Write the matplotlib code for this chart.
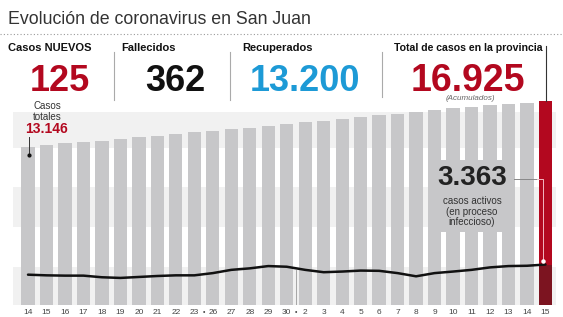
import matplotlib
matplotlib.use("Agg")
import matplotlib.pyplot as plt
from matplotlib.lines import Line2D
from matplotlib.patches import Rectangle

# ---------------- data ----------------
dates = ["14", "15", "16", "17", "18", "19", "20", "21", "22", "23", "26", "27", "28",
         "29", "30", "2", "3", "4", "5", "6", "7", "8", "9", "10", "11", "12", "13", "14", "15"]
total_cases = [13146, 13300, 13460, 13545, 13630, 13790, 13960, 14045, 14210, 14380,
               14460, 14650, 14720, 14880, 15040, 15210, 15290, 15450, 15620, 15790,
               15870, 16040, 16200, 16370, 16450, 16620, 16700, 16800, 16925]
active_cases = [2520, 2465, 2440, 2440, 2305, 2250, 2330, 2410, 2465, 2465, 2650, 2920,
                3045, 3235, 3180, 2920, 2725, 2780, 2860, 2840, 2650, 2385, 2650, 2780,
                2920, 3125, 3235, 3260, 3363]
header_labels = ["Casos NUEVOS", "Fallecidos", "Recuperados", "Total de casos en la provincia"]
header_values = ["125", "362", "13.200", "16.925"]

W, H = 563, 317
BAR = "#c7c7c9"
RED = "#b3081f"
DARKRED = "#7c1420"
BLUE = "#1d9ad6"
BAND = "#f1f1f1"

fig = plt.figure(figsize=(W / 100, H / 100), dpi=100)
fig.patch.set_facecolor("white")


def fx(x):
    return x / W


def fy(y):
    return 1 - y / H


SANS = ["Liberation Sans", "DejaVu Sans"]

# ---------------- header ----------------
fig.text(fx(8), fy(19), "Evolución de coronavirus en San Juan", family=SANS,
         fontsize=12.8, color="#333333", va="center", ha="left")
fig.add_artist(Line2D([0, 1], [fy(34), fy(34)], transform=fig.transFigure,
                      color="#9a9a9a", lw=0.8, linestyle=(0, (1, 2))))

label_x = [8, 121, 242, 394]
label_size = [8, 8, 8, 7.6]
value_cx = [60, 175, 305, 468]
value_size = [26, 26, 26, 27]
value_colors = [RED, "#111111", BLUE, RED]
for lab, lx, ls, val, vx, vs, col in zip(header_labels, label_x, label_size, header_values,
                                          value_cx, value_size, value_colors):
    fig.text(fx(lx), fy(48), lab, family=SANS, fontweight="bold", fontsize=ls,
             color="#111111", va="center", ha="left")
    fig.text(fx(vx), fy(91), val, family=SANS, fontweight="bold", fontsize=vs,
             color=col, va="baseline", ha="center")
fig.text(fx(470), fy(98.5), "(Acumulados)", family=SANS, style="italic", fontsize=5.8,
         color="#666666", va="center", ha="center")

for sx, y0, y1 in [(114, 52, 100), (230, 52, 100), (382, 52, 97)]:
    fig.add_artist(Line2D([fx(sx), fx(sx)], [fy(y0), fy(y1)], transform=fig.transFigure,
                          color="#aaaaaa", lw=0.8))

# ---------------- chart ----------------
x_left, x_right, y_top, y_base = 13, 556, 95, 305
ax = fig.add_axes([fx(x_left), fy(y_base), (x_right - x_left) / W, (y_base - y_top) / H])
px_per_unit = 18.48
ax.set_xlim(-(28 - x_left) / px_per_unit, (x_right - 28) / px_per_unit)
ax.set_ylim(0, (y_base - y_top) * 83.1)
ax.axis("off")

for lo, hi in [(0, 3160), (6480, 9800), (13050, 16040)]:
    ax.axhspan(lo, hi, color=BAND, zorder=0, lw=0)

n = len(dates)
xs = list(range(n))
colors = [BAR] * (n - 1) + [RED]
ax.bar(xs, total_cases, width=0.72, color=colors, zorder=2, lw=0)
ax.bar([xs[-1]], [active_cases[-1]], width=0.72, color=DARKRED, zorder=3, lw=0)

# grey box behind annotation
fig.add_artist(Rectangle((fx(437), fy(232)), (507 - 437) / W, (232 - 160) / H,
                         transform=fig.transFigure, color=BAR, lw=0, zorder=1))

ax.plot(xs, active_cases, color="#111111", lw=1.8, zorder=4, solid_capstyle="round")

# gap marker between 30 and 2
ax.plot([14.5, 14.5], [0, 2900], color="#9a9a9a", lw=0.6, zorder=1)

# x labels
ytxt = -ax.get_ylim()[1] * 0.036
for i, d in enumerate(dates):
    ax.text(i, ytxt, d, ha="center", va="center", fontsize=6,
            color="#444444", family=SANS, clip_on=False)
for gx in [9.5, 14.5]:
    ax.text(gx, ytxt, "•", ha="center", va="center", fontsize=5,
            color="#444444", family=SANS, clip_on=False)

# ---------------- annotations ----------------
fig.text(fx(33), fy(106), "Casos", family=SANS, fontsize=7, color="#333333",
         va="center", ha="left")
fig.text(fx(33), fy(117), "totales", family=SANS, fontsize=7, color="#333333",
         va="center", ha="left")
fig.text(fx(25), fy(129), "13.146", family=SANS, fontweight="bold", fontsize=10,
         color=RED, va="center", ha="left")
fig.add_artist(Line2D([fx(29), fx(29)], [fy(137), fy(155)], transform=fig.transFigure,
                      color="#333333", lw=0.7, zorder=5))
fig.add_artist(Line2D([fx(29)], [fy(155)], transform=fig.transFigure, marker="o",
                      markersize=2, color="#111111", zorder=5))

fig.text(fx(472), fy(178), "3.363", family=SANS, fontweight="bold", fontsize=20,
         color="#222222", va="center", ha="center", zorder=6)
for txt, yy in [("casos activos", 201), ("(en proceso", 212), ("infeccioso)", 222)]:
    fig.text(fx(472), fy(yy), txt, family=SANS, fontsize=7, color="#333333",
             va="center", ha="center", zorder=6)
fig.add_artist(Line2D([fx(514), fx(537)], [fy(179), fy(179)], transform=fig.transFigure,
                      color="#888888", lw=0.7, zorder=6))
fig.add_artist(Line2D([fx(537), fx(543), fx(543)], [fy(179), fy(179), fy(261)],
                      transform=fig.transFigure, color="#f2b8c2", lw=0.7, zorder=6))
fig.add_artist(Line2D([fx(543)], [fy(261)], transform=fig.transFigure, marker="o",
                      markersize=2.2, color="white", zorder=6))

# line from header total to red bar
fig.add_artist(Line2D([fx(546), fx(546)], [fy(46), fy(101)], transform=fig.transFigure,
                      color="#333333", lw=0.8, zorder=6))

fig.savefig("out.png", dpi=100, facecolor="white")
